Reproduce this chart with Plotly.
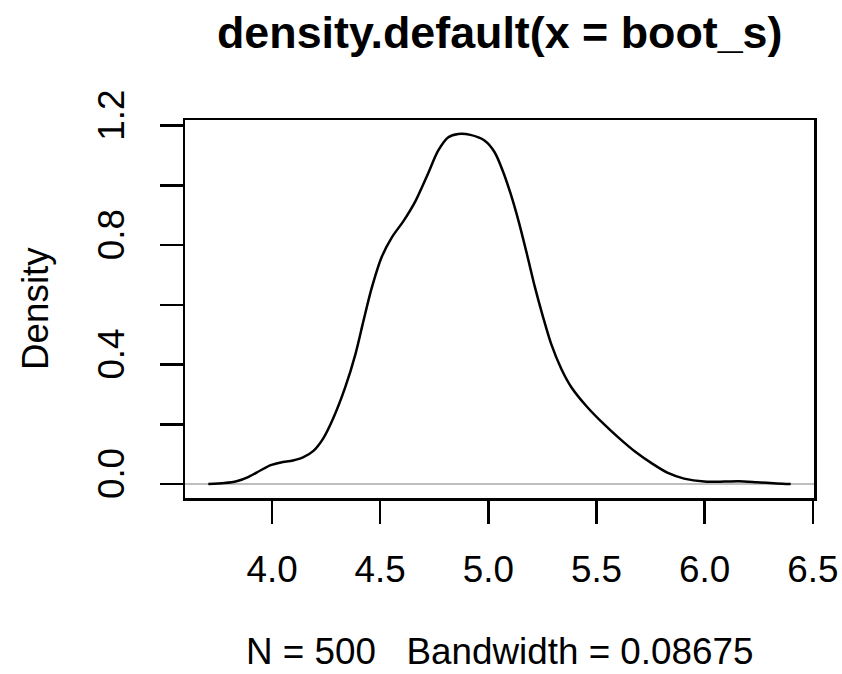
import plotly.graph_objects as go

# Density estimate (x = boot_s value, y = density)
dens_x = [3.7054, 3.780, 3.836, 3.892, 3.948, 3.994, 4.041, 4.097, 4.143, 4.190,
          4.237, 4.283, 4.339, 4.386, 4.423, 4.460, 4.507, 4.554, 4.609, 4.665,
          4.721, 4.768, 4.815, 4.861, 4.917, 4.982, 5.029, 5.066, 5.103, 5.141,
          5.178, 5.215, 5.253, 5.290, 5.337, 5.383, 5.458, 5.532, 5.607, 5.681,
          5.756, 5.830, 5.905, 5.998, 6.091, 6.157, 6.241, 6.334, 6.3978]
dens_y = [0.000, 0.003, 0.009, 0.024, 0.046, 0.063, 0.072, 0.079, 0.089, 0.110,
          0.153, 0.220, 0.325, 0.436, 0.547, 0.654, 0.760, 0.826, 0.882, 0.950,
          1.039, 1.116, 1.161, 1.172, 1.169, 1.150, 1.111, 1.050, 0.972, 0.877,
          0.771, 0.660, 0.559, 0.470, 0.386, 0.325, 0.257, 0.202, 0.152, 0.107,
          0.069, 0.037, 0.018, 0.008, 0.008, 0.009, 0.006, 0.002, 0.000]

x_ticks = [4.0, 4.5, 5.0, 5.5, 6.0, 6.5]
x_tick_labels = ["4.0", "4.5", "5.0", "5.5", "6.0", "6.5"]
y_ticks = [0.0, 0.2, 0.4, 0.6, 0.8, 1.0, 1.2]
y_tick_labels = ["0.0", "", "0.4", "", "0.8", "", "1.2"]

title_text = "density.default(x = boot_s)"
x_label = "N = 500\u00a0\u00a0\u00a0Bandwidth = 0.08675"
y_label = "Density"

FONT = "Liberation Sans, Arial, Helvetica, sans-serif"
FS = 36.8
LW = 2.5

# R-style 4% axis extension
xmin, xmax = min(dens_x), max(dens_x)
ymin, ymax = 0.0, max(dens_y)
dx = (xmax - xmin) * 0.04
dy = (ymax - ymin) * 0.04

fig = go.Figure()
fig.add_trace(go.Scatter(x=dens_x, y=dens_y, mode="lines",
                         line=dict(color="black", width=LW, shape="spline",
                                   smoothing=0.8),
                         hoverinfo="skip", showlegend=False))

fig.update_layout(
    width=842, height=674,
    margin=dict(l=185, r=28, t=120, b=176, pad=0, autoexpand=False),
    paper_bgcolor="white", plot_bgcolor="white",
    font=dict(family=FONT, size=FS, color="black"),
    showlegend=False,
)
fig.update_xaxes(
    range=[xmin - dx, xmax + dx], showgrid=False, zeroline=False,
    automargin=False,
    showline=True, mirror=True, linecolor="black", linewidth=LW,
    ticks="outside", ticklen=23, tickwidth=LW, tickcolor="black",
    tickvals=x_ticks, ticktext=x_tick_labels,
    tickfont=dict(family=FONT, size=FS, color="black"),
    ticklabelstandoff=14,
)
fig.update_yaxes(
    range=[ymin - dy, ymax + dy], showgrid=False,
    automargin=False,
    zeroline=True, zerolinecolor="#BEBEBE", zerolinewidth=1.6,
    showline=True, mirror=True, linecolor="black", linewidth=LW,
    ticks="outside", ticklen=23, tickwidth=LW, tickcolor="black",
    tickvals=y_ticks, ticktext=y_tick_labels, tickangle=-90,
    tickfont=dict(family=FONT, size=FS, color="black"),
    ticklabelstandoff=21, ticklabelshift=-5,
)

fig.add_annotation(text="<b>" + title_text + "</b>", xref="paper", yref="paper",
                   x=0.5, y=1, yshift=61, xanchor="center", yanchor="bottom",
                   showarrow=False, font=dict(family=FONT, size=44.8, color="black"))
fig.add_annotation(text=x_label, xref="paper", yref="paper",
                   x=0.5, y=0, yshift=-176, xanchor="center", yanchor="bottom",
                   showarrow=False, font=dict(family=FONT, size=FS, color="black"))
fig.add_annotation(text=y_label, xref="paper", yref="paper",
                   x=0, y=0.5, xshift=-172.5, xanchor="left", yanchor="middle",
                   textangle=-90, showarrow=False,
                   font=dict(family=FONT, size=FS, color="black"))

# remove the browser's default 8px body margin so the figure sits at (0, 0)
fig.write_html("out.html",
               config={"displayModeBar": False, "staticPlot": True},
               post_script="document.body.style.margin='0';"
                           "document.body.style.overflow='hidden';")
